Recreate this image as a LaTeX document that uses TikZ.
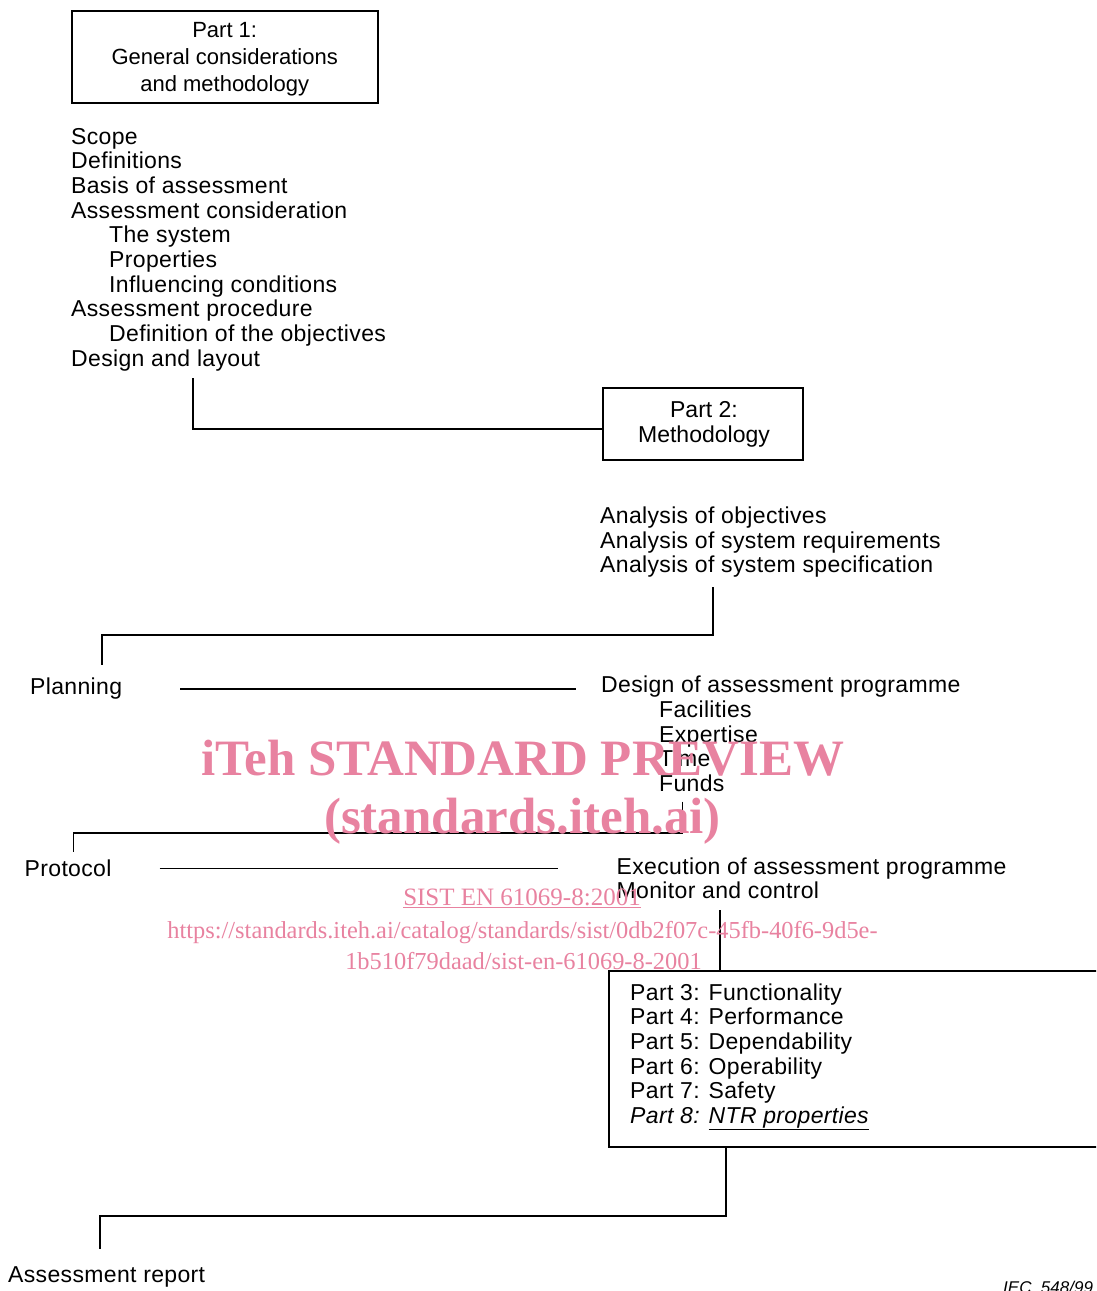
\documentclass[tikz,border=0pt]{standalone}
\usepackage{fontspec}
\setmainfont{Liberation Sans}
\newfontfamily\lsfont[LetterSpace=1.5]{Liberation Sans}
\newfontfamily\wmfont{Liberation Serif}
\definecolor{wmpink}{RGB}{232,130,160}
\begin{document}
\begin{tikzpicture}[x=1pt,y=-1pt,
  txt/.style={anchor=base west, inner sep=0pt, font=\lsfont\fontsize{23}{25}\selectfont},
  ctxt/.style={anchor=base, inner sep=0pt, font=\fontsize{22}{25}\selectfont},
  partbox/.style={draw, line width=1.9pt, inner sep=0pt},
  link/.style={line width=1.9pt},
  wm/.style={anchor=base, inner sep=0pt, text=wmpink}]
\useasboundingbox (0,0) rectangle (1096,1291);
\clip (0,0) rectangle (1096,1291);

% Part 1 box
\node[partbox, minimum width=306pt, minimum height=92pt] (p1) at (224.7,57) {};
\node[ctxt] (p1a) at (224.7,37.7) {Part 1:};
\node[ctxt] (p1b) at (224.7,64.3) {General considerations};
\node[ctxt] (p1c) at (224.7,91.5) {and methodology};

% Part 1 list
\node[txt] (l1) at (71,144) {Scope};
\node[txt] (l2) at (71,168.7) {Definitions};
\node[txt] (l3) at (71,193.4) {Basis of assessment};
\node[txt] (l4) at (71,218.1) {Assessment consideration};
\node[txt] (l5) at (109,242.8) {The system};
\node[txt] (l6) at (109,267.5) {Properties};
\node[txt] (l7) at (109,292.2) {Influencing conditions};
\node[txt] (l8) at (71,316.9) {Assessment procedure};
\node[txt] (l9) at (109,341.6) {Definition of the objectives};
\node[txt] (l10) at (71,366.3) {Design and layout};

% Part 2 box
\node[partbox, minimum width=200pt, minimum height=71.7pt] (p2) at (703.3,424.2) {};
\node[ctxt, font=\fontsize{23}{25}\selectfont] (p2a) at (704,417.3) {Part 2:};
\node[ctxt, font=\fontsize{23}{25}\selectfont] (p2b) at (704,442.7) {Methodology};

\coordinate (c1) at (193,378);
\draw[link] (c1) |- ([yshift=-5.2pt]p2.west);

% Part 2 list
\node[txt] (a1) at (600,523.3) {Analysis of objectives};
\node[txt] (a2) at (600,548) {Analysis of system requirements};
\node[txt] (a3) at (600,572.7) {Analysis of system specification};

\coordinate (c2) at (713,587);
\coordinate (c3) at (102,665);
\draw[link] (c2) -- ++(0,48) -| (c3);

% Planning
\node[txt] (plan) at (30,694.5) {Planning};
\node[txt] (des) at (601,692.7) {Design of assessment programme};
\node[txt] (d1) at (659,717.4) {Facilities};
\node[txt] (d2) at (659,742.1) {Expertise};
\node[txt] (d3) at (659,766.8) {Time};
\node[txt] (d4) at (659,791.5) {Funds};
\draw[link, shorten <=58pt, shorten >=25pt] (plan.east) -- (plan.east -| des.west);

\coordinate (f1) at (682.5,801.7);
\coordinate (f2) at (73.5,852);
\draw[link] (f1) -- ++(0,31) -| (f2);

% Protocol
\node[txt] (prot) at (24.5,876.7) {Protocol};
\node[txt] (exe) at (616.5,874) {Execution of assessment programme};
\node[txt] (mon) at (616.5,898.5) {Monitor and control};
\draw[link, shorten <=48pt, shorten >=59pt] (prot.east) -- (prot.east -| exe.west);

% Parts 3-8 box
\node[partbox, minimum width=500.7pt, minimum height=176.3pt] (p3) at (859.65,1059.15) {};
\node[txt] (q3) at (630,1000) {Part 3: Functionality};
\node[txt] (q4) at (630,1024.7) {Part 4: Performance};
\node[txt] (q5) at (630,1049.4) {Part 5: Dependability};
\node[txt] (q6) at (630,1074.1) {Part 6: Operability};
\node[txt] (q7) at (630,1098.8) {Part 7: Safety};
\node[txt] (q8) at (630,1123.5) {\itshape Part 8: \underline{NTR properties}};

\coordinate (m1) at (720,910);
\draw[link] (m1) -- (m1 |- p3.north);

\coordinate (r1) at (100,1248.5);
\draw[link] (p3.south west) ++(117.5,0) -- ++(0,67.7) -| (r1);

\node[txt] (rep) at (8,1282) {Assessment report};
\node[txt, font=\fontsize{17}{19}\selectfont\itshape] (iec) at (1003,1293.5) {IEC\ \ 548/99};

% watermark
\node[wm, font=\wmfont\bfseries\fontsize{51}{55}\selectfont] (w1) at (523,775) {iTeh STANDARD PREVIEW};
\node[wm, font=\wmfont\bfseries\fontsize{51}{55}\selectfont] (w2) at (522.5,833) {(standards.iteh.ai)};
\node[wm, font=\wmfont\fontsize{25}{27}\selectfont] (w3) at (522,905) {\underline{SIST EN 61069-8:2001}};
\node[wm, font=\wmfont\fontsize{24.4}{27}\selectfont] (w4) at (522.5,938) {https://standards.iteh.ai/catalog/standards/sist/0db2f07c-45fb-40f6-9d5e-};
\node[wm, font=\wmfont\fontsize{24.4}{27}\selectfont] (w5) at (523.5,969) {1b510f79daad/sist-en-61069-8-2001};
\end{tikzpicture}
\end{document}
